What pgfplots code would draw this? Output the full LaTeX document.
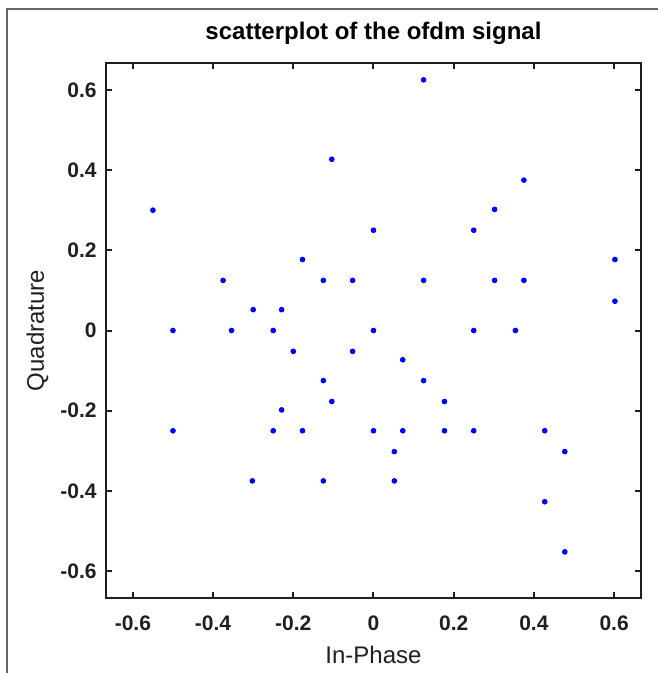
\documentclass[border=0pt]{standalone}
\usepackage{fontspec}
\setmainfont{Liberation Sans}
\usepackage{pgfplots}
\pgfplotsset{compat=1.18}
\definecolor{axgray}{rgb}{0.12,0.12,0.12}

\begin{document}
\begin{tikzpicture}
\useasboundingbox (-53pt,-37.5pt) rectangle (275.5pt,299pt);
\draw[black!60, line width=0.6pt] (-49.5pt,-45pt) rectangle (285pt,294.5pt);
\begin{axis}[
  at={(0pt,0pt)}, anchor=south west,
  scale only axis, width=267.5pt, height=267.5pt,
  xmin=-0.667, xmax=0.667, ymin=-0.667, ymax=0.667,
  xtick={-0.6,-0.4,...,0.6}, ytick={-0.6,-0.4,...,0.6},
  /pgf/number format/assume math mode=true,
  /pgf/number format/fixed,
  tick align=inside, major tick length=3.2pt,
  axis line style={axgray, line width=1pt},
  tick style={axgray, line width=1pt},
  tick label style={font=\bfseries\fontsize{10.5}{12}\selectfont, text=axgray},
  xticklabel style={yshift=-5.5pt},
  yticklabel style={xshift=-1.2pt},
  xlabel={In-Phase}, ylabel={Quadrature},
  label style={font=\fontsize{12}{14}\selectfont, text=axgray},
  xlabel style={at={(axis description cs:0.5,-0.1065)}, anchor=center},
  ylabel style={at={(axis description cs:-0.128,0.5)}, anchor=center},
  title={scatterplot of the ofdm signal},
  title style={font=\bfseries\fontsize{12}{14}\selectfont, at={(axis description cs:0.5,1.0336)}, anchor=center},
]
\addplot[only marks, mark=*, mark size=1.2pt, color=blue, mark options={draw=blue, fill=blue}]
  coordinates {
  (-0.550,0.300)(-0.500,0.000)(-0.375,0.125)(-0.300,0.052)(-0.354,0.000)
  (-0.250,0.000)(-0.229,0.052)(-0.177,0.177)(-0.125,0.125)(-0.104,0.427)
  (0.125,0.625)(0.375,0.375)(0.302,0.302)(0.000,0.250)(0.250,0.250)
  (0.602,0.177)(-0.052,0.125)(0.125,0.125)(0.302,0.125)(0.375,0.125)
  (0.602,0.073)(0.000,0.000)(0.250,0.000)(0.354,0.000)
  (-0.200,-0.052)(-0.125,-0.125)(-0.104,-0.177)(-0.229,-0.198)
  (-0.500,-0.250)(-0.250,-0.250)(-0.177,-0.250)(-0.302,-0.375)(-0.125,-0.375)
  (-0.052,-0.052)(0.073,-0.073)(0.125,-0.125)(0.177,-0.177)
  (0.000,-0.250)(0.073,-0.250)(0.177,-0.250)(0.250,-0.250)(0.427,-0.250)
  (0.477,-0.302)(0.052,-0.302)(0.052,-0.375)(0.427,-0.427)(0.477,-0.552)
  };
\end{axis}
\end{tikzpicture}
\end{document}
